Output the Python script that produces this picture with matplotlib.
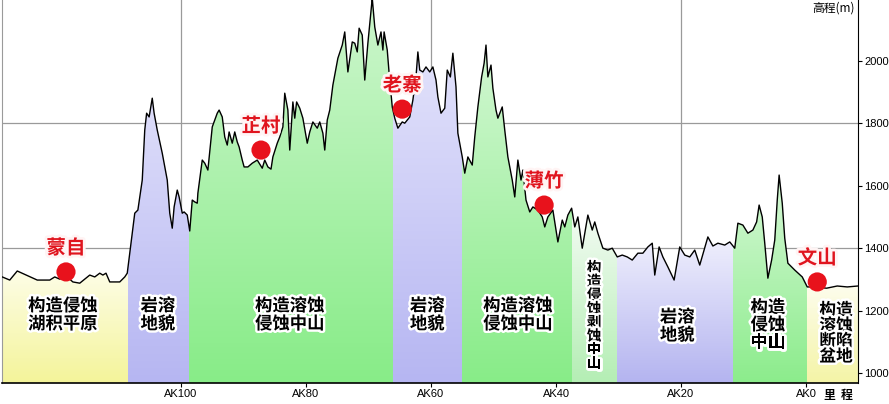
import numpy as np
import matplotlib.pyplot as plt
import matplotlib.patheffects as pe
from matplotlib.colors import LinearSegmentedColormap
from matplotlib.patches import Polygon

plt.rcParams['font.family'] = ['Noto Sans CJK SC', 'DejaVu Sans']

# profile: mileage (km, AK) and elevation (m)
km = [128.6, 127.4, 126.2, 123.0, 121.0, 120.2, 119.4, 118.4, 117.3, 116.2,
      115.4, 114.6, 113.8, 113.0, 112.5, 112.0, 111.4, 109.8, 109.0, 108.6,
      108.2, 107.4, 106.9, 106.2, 105.8, 105.5, 105.1, 104.6, 104.3, 103.8,
      103.0, 102.2, 101.8, 101.4, 101.1, 100.6, 100.3, 99.8, 99.5, 99.0,
      98.6, 98.2, 97.8, 97.4, 97.3, 96.6, 96.2, 95.7, 95.0, 94.2,
      93.9, 93.4, 93.0, 92.6, 92.3, 91.8, 91.4, 91.0, 90.7, 90.2,
      89.9, 89.3, 88.6, 87.8, 87.0, 86.6, 86.1, 85.6, 85.3, 84.6,
      84.2, 83.7, 83.4, 82.9, 82.6, 82.1, 81.8, 81.5, 81.0, 80.5,
      79.8, 79.4, 78.9, 78.2, 77.8, 77.3, 77.0, 76.6, 76.2, 75.7,
      74.9, 74.2, 73.8, 73.3, 72.6, 72.2, 71.8, 71.5, 71.0, 70.6,
      70.1, 69.4, 69.0, 68.5, 68.0, 67.7, 67.5, 67.0, 66.7, 66.2,
      65.8, 65.3, 64.6, 64.2, 63.4, 62.9, 62.4, 62.1, 61.8, 61.3,
      60.8, 60.2, 59.7, 59.2, 58.9, 58.4, 57.8, 57.4, 56.9, 56.5,
      56.0, 55.7, 55.0, 54.6, 54.1, 53.4, 53.0, 52.5, 51.9, 51.5,
      51.2, 50.9, 50.4, 50.1, 49.6, 49.3, 48.6, 48.2, 47.7, 47.0,
      46.6, 46.1, 45.6, 45.3, 44.8, 44.2, 43.7, 42.9, 42.2, 41.8,
      41.3, 40.5, 39.7, 39.0, 38.6, 38.1, 37.5, 37.0, 36.5, 35.8,
      35.4, 34.9, 34.2, 33.8, 33.3, 32.5, 31.7, 31.0, 30.2, 29.4,
      28.6, 27.8, 26.9, 26.1, 25.3, 24.6, 24.2, 23.5, 22.9, 22.1,
      21.1, 20.2, 19.4, 18.6, 17.8, 17.0, 15.7, 14.9, 14.1, 13.0,
      12.2, 11.4, 10.9, 10.1, 9.3, 8.5, 7.9, 7.5, 7.0, 6.6,
      6.1, 5.5, 5.0, 4.6, 4.3, 3.8, 3.4, 2.9, 1.8, 0.6,
      -0.2, -1.1, -3.3, -5.0, -6.6, -8.3]
elev = [1308, 1298, 1327, 1298, 1298, 1308, 1301, 1311, 1292, 1288,
        1301, 1314, 1308, 1320, 1314, 1320, 1292, 1292, 1308, 1320,
        1384, 1512, 1522, 1618, 1778, 1832, 1820, 1880, 1832, 1778,
        1704, 1618, 1512, 1464, 1532, 1586, 1564, 1512, 1516, 1506,
        1455, 1554, 1548, 1544, 1576, 1682, 1672, 1650, 1788, 1832,
        1842, 1820, 1756, 1730, 1772, 1736, 1772, 1740, 1724, 1682,
        1660, 1660, 1672, 1682, 1656, 1682, 1660, 1653, 1692, 1736,
        1756, 1788, 1896, 1842, 1714, 1868, 1816, 1868, 1848, 1816,
        1736, 1772, 1804, 1784, 1804, 1768, 1714, 1810, 1842, 1922,
        2008, 2050, 2092, 1964, 2060, 2056, 2028, 2104, 2082, 1938,
        2056, 2200, 2108, 2050, 2092, 2034, 2092, 2034, 1960, 1852,
        1816, 1784, 1804, 1800, 1820, 1874, 1948, 2028, 1970, 1964,
        1980, 1964, 1980, 1938, 1884, 1832, 1848, 1970, 1948, 2024,
        1916, 1768, 1692, 1640, 1692, 1666, 1756, 1852, 1948, 1992,
        2050, 1948, 1986, 1912, 1842, 1816, 1852, 1778, 1692, 1618,
        1564, 1682, 1618, 1650, 1554, 1516, 1532, 1522, 1500, 1468,
        1500, 1522, 1420, 1490, 1468, 1506, 1528, 1468, 1500, 1400,
        1448, 1506, 1458, 1484, 1448, 1400, 1394, 1400, 1372, 1378,
        1372, 1362, 1384, 1384, 1404, 1416, 1314, 1404, 1372, 1340,
        1298, 1404, 1378, 1372, 1394, 1346, 1436, 1407, 1416, 1410,
        1420, 1400, 1480, 1474, 1448, 1458, 1484, 1538, 1500, 1416,
        1304, 1362, 1426, 1554, 1634, 1544, 1432, 1352, 1330, 1308,
        1276, 1276, 1272, 1279, 1276, 1279]

# landform zones (km from -> to) and labels
zone_edges = [128.64, 108.5, 98.7, 66.1, 55.0, 37.4, 30.2, 11.7, -0.15, -8.32]
zone_names = ['构造侵蚀\n湖积平原', '岩溶\n地貌', '构造溶蚀\n侵蚀中山', '岩溶\n地貌',
              '构造溶蚀\n侵蚀中山', '构\n造\n侵\n蚀\n剥\n蚀\n中\n山', '岩溶\n地貌',
              '构造\n侵蚀\n中山', '构造\n溶蚀\n断陷\n盆地']
zone_label_km = [118.9, 103.7, 82.6, 60.6, 46.1, 33.9, 20.6, 6.1, -4.8]
zone_label_y = [1186, 1186, 1186, 1186, 1186, 1186, 1150, 1154, 1128]

# places on the line
places = ['蒙自', '芷村', '老寨', '薄竹', '文山']
place_km = [118.4, 87.2, 64.6, 41.9, -1.8]
place_elev = [1324, 1714, 1845, 1538, 1292]

ybot, ytop = 968.6, 2194.2

zone_colors = [('#f4f49a', '#fdfde6'), ('#b6b6f2', '#dedefa'), ('#88ec88', '#cdf6cd'),
               ('#b6b6f2', '#e2e2fb'), ('#88ec88', '#d2f7d2'), ('#b4eeb4', '#f2fbf2'),
               ('#b4b4f0', '#f0f0fd'), ('#8cec8c', '#d6f8d6'), ('#f4f4a6', '#fdfdec')]
zone_fs = [12.5, 12.5, 12.5, 12.5, 12.5, 10.5, 12.5, 12.5, 12]
zone_ls = [1.0, 1.0, 1.0, 1.0, 1.0, 0.82, 1.0, 0.95, 0.82]

fig = plt.figure(figsize=(8.89, 4.04), dpi=100)
ax = fig.add_axes([2 / 889, 21 / 404, 856 / 889, 383 / 404])

area = Polygon(list(zip(km, elev)) + [(km[-1], ybot), (km[0], ybot)],
               closed=True, transform=ax.transData, facecolor='none', edgecolor='none')

km_a = np.array(km)
elev_a = np.array(elev)
for i, (c0, c1) in enumerate(zone_colors):
    x0, x1 = zone_edges[i], zone_edges[i + 1]
    sel = (km_a <= x0) & (km_a >= x1)
    top = elev_a[sel].max() if sel.any() else 1400
    cmap = LinearSegmentedColormap.from_list('z%d' % i, [c0, c1])
    grad = np.linspace(0, 1, 128).reshape(-1, 1)
    im = ax.imshow(grad, cmap=cmap, origin='lower', aspect='auto',
                   extent=(x0, x1, ybot, top), zorder=1, interpolation='bilinear')
    im.set_clip_path(area)

ax.plot(km, elev, color='black', lw=1.0, zorder=3)

for xg in [100, 60, 20]:
    ax.axvline(xg, color='#9a9a9a', lw=0.9, zorder=0)
for yg in [1400, 1800]:
    ax.axhline(yg, color='#9a9a9a', lw=0.9, zorder=0)

halo = [pe.withStroke(linewidth=3.5, foreground='white')]
for name, xk, yk, fs, ls in zip(zone_names, zone_label_km, zone_label_y, zone_fs, zone_ls):
    ax.text(xk, yk, name, ha='center', va='center', fontsize=fs, fontweight='bold',
            linespacing=ls, color='black', path_effects=halo, zorder=5)

ax.scatter(place_km, place_elev, s=190, color='#e8121c', zorder=6, edgecolors='none')
for name, xk, yk in zip(places, place_km, place_elev):
    ax.annotate(name, (xk, yk), xytext=(0, 17), textcoords='offset points',
                ha='center', va='center', fontsize=14, fontweight='bold', color='#e0141e',
                path_effects=[pe.withStroke(linewidth=4, foreground='#fff4f4')], zorder=6)

ax.set_xlim(zone_edges[0], zone_edges[-1])
ax.set_ylim(ybot, ytop)

ax.set_xticks([100, 80, 60, 40, 20, 0])
ax.set_xticklabels(['AK100', 'AK80', 'AK60', 'AK40', 'AK20', 'AK0'],
                   family=['Liberation Sans', 'DejaVu Sans'], fontsize=8)
ax.set_yticks([1000, 1200, 1400, 1600, 1800, 2000])
ax.set_yticklabels(['1000', '1200', '1400', '1600', '1800', '2000'],
                   family=['Liberation Sans', 'DejaVu Sans'], fontsize=8)
ax.yaxis.tick_right()
ax.tick_params(axis='both', direction='out', length=3, width=0.8, pad=1.5)

ax.spines['top'].set_visible(False)
ax.spines['left'].set_color('#9a9a9a')
ax.spines['right'].set_color('black')
ax.spines['bottom'].set_color('black')
ax.spines['bottom'].set_linewidth(1.2)

fig.text(855 / 889, 1 - 8 / 404, '高程(m)', ha='right', va='center', fontsize=8.5)
fig.text(838 / 889, 1 - 396 / 404, '里  程', ha='center', va='center', fontsize=8.5,
         fontweight='bold')

fig.savefig('out.png', dpi=100)
